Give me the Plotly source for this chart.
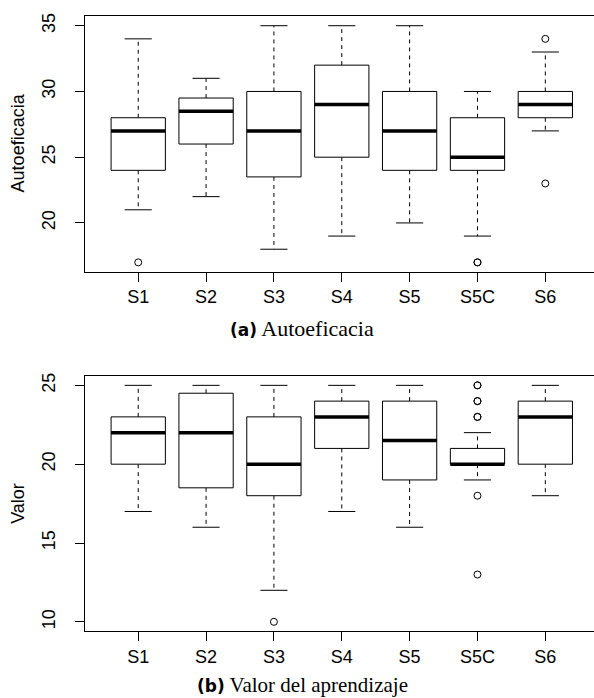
import plotly.graph_objects as go

categories = ["S1", "S2", "S3", "S4", "S5", "S5C", "S6"]

# Panel (a) Autoeficacia
a_lower = [21, 22, 18, 19, 20, 19, 27]
a_q1 = [24, 26, 23.5, 25, 24, 24, 28]
a_median = [27, 28.5, 27, 29, 27, 25, 29]
a_q3 = [28, 29.5, 30, 32, 30, 28, 30]
a_upper = [34, 31, 35, 35, 35, 30, 33]
a_outliers = [[17], [], [], [], [], [17, 17], [34, 23]]

# Panel (b) Valor del aprendizaje
b_lower = [17, 16, 12, 17, 16, 19, 18]
b_q1 = [20, 18.5, 18, 21, 19, 20, 20]
b_median = [22, 22, 20, 23, 21.5, 20, 23]
b_q3 = [23, 24.5, 23, 24, 24, 21, 24]
b_upper = [25, 25, 25, 25, 25, 22, 25]
b_outliers = [[], [], [10], [], [], [25, 25, 24, 24, 23, 23, 18, 13], []]

W, H = 594, 698
FONT = "Liberation Sans, Arial, sans-serif"
HALF = 0.4
CAP = 0.2

fig = go.Figure()


def add_panel(xa, ya, lower, q1, med, q3, upper, outl):
    pos = list(range(1, len(categories) + 1))
    bx, by, mx, my, wx, wy, cx, cy, ox, oy = [], [], [], [], [], [], [], [], [], []
    for i, p in enumerate(pos):
        bx += [p - HALF, p + HALF, p + HALF, p - HALF, p - HALF, None]
        by += [q1[i], q1[i], q3[i], q3[i], q1[i], None]
        mx += [p - HALF, p + HALF, None]
        my += [med[i], med[i], None]
        wx += [p, p, None, p, p, None]
        wy += [q3[i], upper[i], None, q1[i], lower[i], None]
        cx += [p - CAP, p + CAP, None, p - CAP, p + CAP, None]
        cy += [upper[i], upper[i], None, lower[i], lower[i], None]
        for v in outl[i]:
            ox.append(p)
            oy.append(v)
    common = dict(xaxis=xa, yaxis=ya, showlegend=False, hoverinfo="skip")
    fig.add_trace(go.Scatter(x=wx, y=wy, mode="lines",
                             line=dict(color="black", width=1, dash="4px,4px"), **common))
    fig.add_trace(go.Scatter(x=cx, y=cy, mode="lines",
                             line=dict(color="black", width=1), **common))
    fig.add_trace(go.Scatter(x=bx, y=by, mode="lines", fill="toself", fillcolor="white",
                             line=dict(color="black", width=1), **common))
    fig.add_trace(go.Scatter(x=mx, y=my, mode="lines",
                             line=dict(color="black", width=3.5), **common))
    fig.add_trace(go.Scatter(x=ox, y=oy, mode="markers",
                             marker=dict(symbol="circle-open", size=7, color="black",
                                         line=dict(width=1, color="black")), **common))


add_panel("x", "y", a_lower, a_q1, a_median, a_q3, a_upper, a_outliers)
add_panel("x2", "y2", b_lower, b_q1, b_median, b_q3, b_upper, b_outliers)

left = 85.3 / W
xr = [0.22, 0.22 + (W - 85.3) / 67.85]

xcommon = dict(range=xr, tickvals=list(range(1, 8)), ticktext=categories,
               showline=True, linecolor="black", linewidth=1, mirror=True,
               ticks="outside", ticklen=9, tickcolor="black", tickwidth=1,
               showgrid=False, zeroline=False,
               tickfont=dict(family=FONT, size=18, color="black"))
ycommon = dict(showline=True, linecolor="black", linewidth=1,
               ticks="outside", ticklen=9, tickcolor="black", tickwidth=1,
               showgrid=False, zeroline=False, tickangle=-90, ticklabelstandoff=13,
               tickfont=dict(family=FONT, size=18, color="black"))

fig.update_layout(
    width=W, height=H, margin=dict(l=0, r=0, t=0, b=0),
    paper_bgcolor="white", plot_bgcolor="white",
    xaxis=dict(domain=[left, 1], anchor="y", **xcommon),
    yaxis=dict(domain=[1 - 270 / H, 1 - 13.3 / H], anchor="x",
               range=[16.28, 35.72], tickvals=[20, 25, 30, 35], **ycommon),
    xaxis2=dict(domain=[left, 1], anchor="y2", **xcommon),
    yaxis2=dict(domain=[1 - 631 / H, 1 - 374.5 / H], anchor="x2",
                range=[9.4, 25.6], tickvals=[10, 15, 20, 25], **ycommon),
)

ann = []
ann.append(dict(text="Autoeficacia", x=18 / W, y=1 - 141 / H, xref="paper", yref="paper",
                textangle=-90, showarrow=False, font=dict(family=FONT, size=18, color="black"),
                xanchor="center", yanchor="middle"))
ann.append(dict(text="Valor", x=18 / W, y=1 - 503 / H, xref="paper", yref="paper",
                textangle=-90, showarrow=False, font=dict(family=FONT, size=18, color="black"),
                xanchor="center", yanchor="middle"))
cap_a = "<span style=\"font-family:'DejaVu Sans';font-size:17px\"><b>(a)</b></span> Autoeficacia"
cap_b = "<span style=\"font-family:'DejaVu Sans';font-size:17px\"><b>(b)</b></span> Valor del aprendizaje"
ann.append(dict(text=cap_a, x=302 / W, y=1 - 327 / H, xref="paper", yref="paper",
                showarrow=False, font=dict(family="Liberation Serif, serif", size=22, color="black"),
                xanchor="center", yanchor="middle"))
ann.append(dict(text=cap_b, x=302 / W, y=1 - 685 / H, xref="paper", yref="paper",
                showarrow=False, font=dict(family="Liberation Serif, serif", size=21, color="black"),
                xanchor="center", yanchor="middle"))
fig.update_layout(annotations=ann)

fig.write_html("out.html")
